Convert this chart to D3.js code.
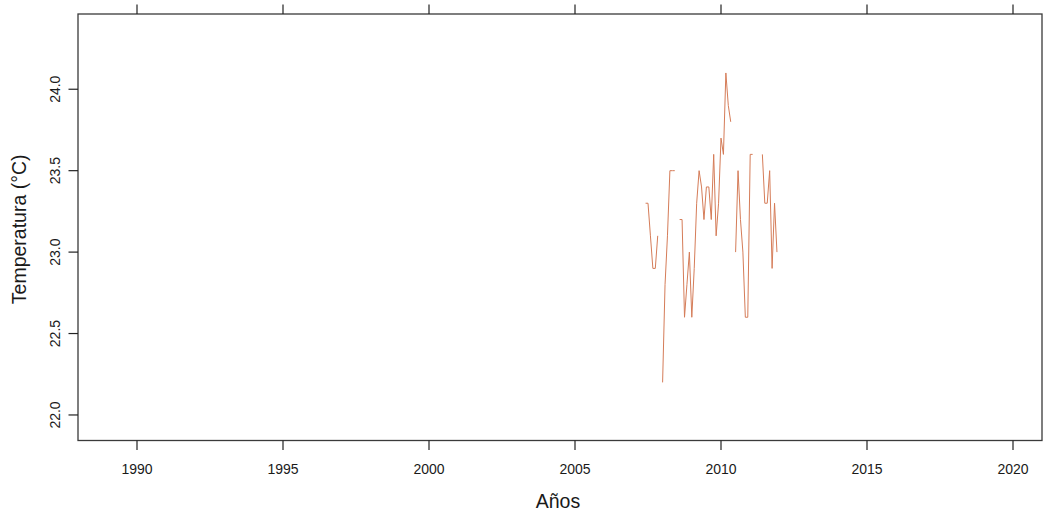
<!DOCTYPE html>
<html>
<head>
<meta charset="utf-8">
<script src="https://cdn.jsdelivr.net/npm/d3@7"></script>
<style>
  html, body { margin: 0; padding: 0; background: #fff; }
  svg { display: block; }
  text { font-family: "Liberation Sans", Arial, sans-serif; fill: #1a1a1a; }
</style>
</head>
<body>
<svg id="chart" width="1043" height="521"></svg>
<script>
// Monthly series, June 2007 .. December 2011 (null = missing)
const months = [
  "2007-06","2007-07","2007-08","2007-09","2007-10","2007-11","2007-12",
  "2008-01","2008-02","2008-03","2008-04","2008-05","2008-06","2008-07","2008-08","2008-09","2008-10","2008-11","2008-12",
  "2009-01","2009-02","2009-03","2009-04","2009-05","2009-06","2009-07","2009-08","2009-09","2009-10","2009-11","2009-12",
  "2010-01","2010-02","2010-03","2010-04","2010-05","2010-06","2010-07","2010-08","2010-09","2010-10","2010-11","2010-12",
  "2011-01","2011-02","2011-03","2011-04","2011-05","2011-06","2011-07","2011-08","2011-09","2011-10","2011-11","2011-12"
];
const temperatures = [
  23.3, 23.3, 23.1, 22.9, 22.9, 23.1, null,
  22.2, 22.8, 23.1, 23.5, 23.5, 23.5, null, 23.2, 23.2, 22.6, 22.8, 23.0,
  22.6, 22.9, 23.3, 23.5, 23.4, 23.2, 23.4, 23.4, 23.2, 23.6, 23.1, 23.3,
  23.7, 23.6, 24.1, 23.9, 23.8, null, 23.0, 23.5, 23.2, 23.0, 22.6, 22.6,
  23.6, 23.6, null, null, null, 23.6, 23.3, 23.3, 23.5, 22.9, 23.3, 23.0
];
const xTicks = [1990, 1995, 2000, 2005, 2010, 2015, 2020];
const yTicks = [22.0, 22.5, 23.0, 23.5, 24.0];
const xTitle = "Años";
const yTitle = "Temperatura (°C)";

(function () {
const svg = d3.select("#chart");
const pLeft = 78, pRight = 1042, pTop = 14, pBottom = 440.5;

const x = d3.scaleLinear().domain([1988, 2021]).range([78.6, 1042.2]);
const y = d3.scaleLinear().domain([21.842, 24.462]).range([440.7, 14]);

const data = months.map((m, i) => {
  const [yy, mm] = m.split("-").map(Number);
  return { t: yy + (mm - 1) / 12, v: temperatures[i] };
});

// Frame
svg.append("rect")
  .attr("x", pLeft).attr("y", pTop)
  .attr("width", pRight - pLeft).attr("height", pBottom - pTop)
  .attr("fill", "none").attr("stroke", "#3a3a3a").attr("stroke-width", 1.3);

// Bottom axis ticks + labels
const xb = svg.append("g");
xb.selectAll("line").data(xTicks).join("line")
  .attr("x1", d => x(d)).attr("x2", d => x(d))
  .attr("y1", pBottom).attr("y2", pBottom + 9.5)
  .attr("stroke", "#222").attr("stroke-width", 1.2);
xb.selectAll("text").data(xTicks).join("text")
  .attr("x", d => x(d)).attr("y", 474)
  .attr("text-anchor", "middle").attr("font-size", 14)
  .text(d => d);

// Top axis ticks
svg.append("g").selectAll("line").data(xTicks).join("line")
  .attr("x1", d => x(d)).attr("x2", d => x(d))
  .attr("y1", pTop).attr("y2", pTop - 9.5)
  .attr("stroke", "#222").attr("stroke-width", 1.2);

// Left axis ticks + labels (rotated)
const yl = svg.append("g");
yl.selectAll("line").data(yTicks).join("line")
  .attr("x1", pLeft).attr("x2", pLeft - 9.5)
  .attr("y1", d => y(d)).attr("y2", d => y(d))
  .attr("stroke", "#222").attr("stroke-width", 1.2);
yl.selectAll("text").data(yTicks).join("text")
  .attr("transform", d => `translate(59.5,${y(d)}) rotate(-90)`)
  .attr("text-anchor", "middle").attr("font-size", 14)
  .text(d => d.toFixed(1));

// Axis titles
svg.append("text")
  .attr("x", 558).attr("y", 508)
  .attr("text-anchor", "middle").attr("font-size", 19.5)
  .text(xTitle);
svg.append("text")
  .attr("transform", `translate(26,${y(23.14)}) rotate(-90)`)
  .attr("text-anchor", "middle").attr("font-size", 19.5)
  .text(yTitle);

// Series line
const line = d3.line()
  .defined(d => d.v != null)
  .x(d => x(d.t)).y(d => y(d.v));
svg.append("path")
  .datum(data)
  .attr("d", line)
  .attr("fill", "none")
  .attr("stroke", "#D57C58")
  .attr("stroke-width", 1);
})();
</script>
</body>
</html>
